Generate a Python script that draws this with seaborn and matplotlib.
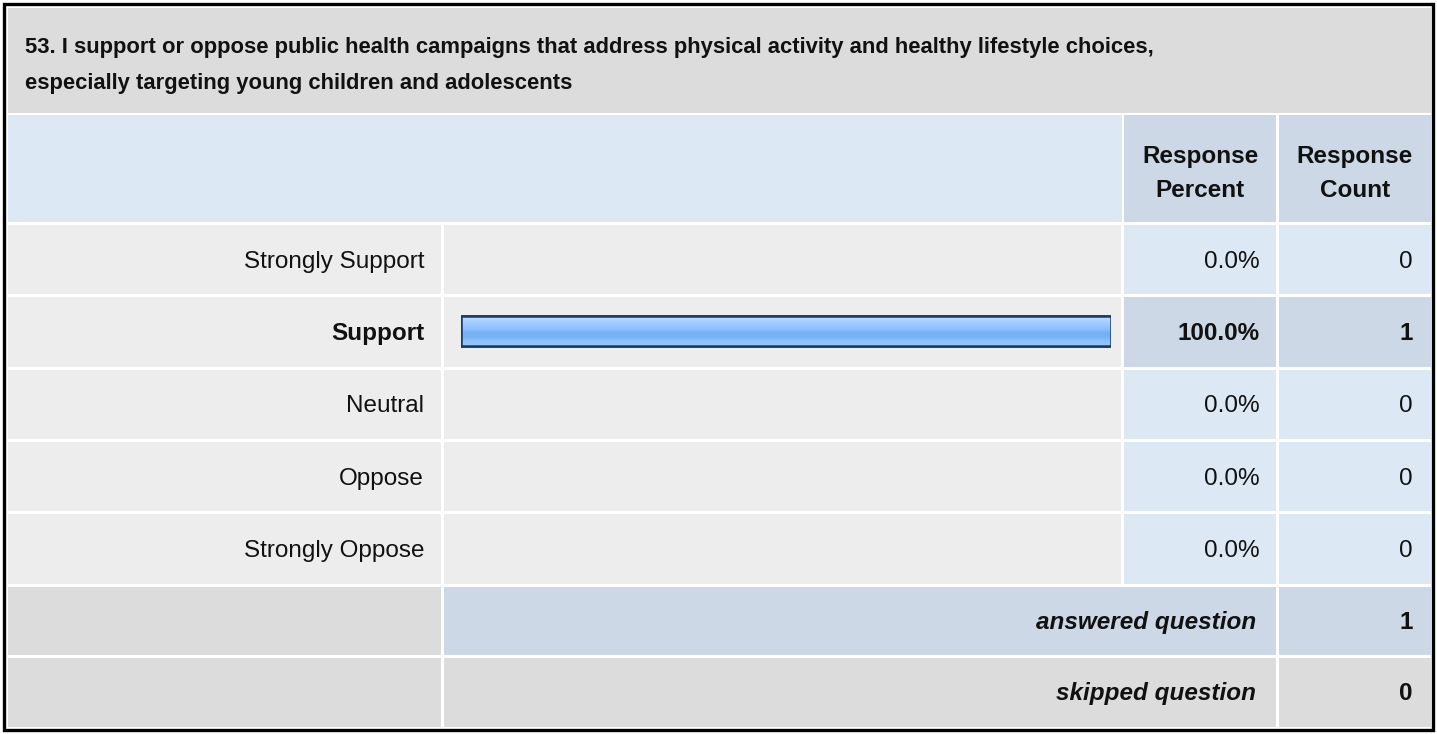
import numpy as np
import seaborn as sns
import matplotlib.pyplot as plt
from matplotlib.patches import Rectangle
from matplotlib.colors import LinearSegmentedColormap

sns.set_theme(style="white")
plt.rcParams['font.family'] = ['Liberation Sans', 'DejaVu Sans']

# Données du tableau
question_l1 = "53. I support or oppose public health campaigns that address physical activity and healthy lifestyle choices,"
question_l2 = "especially targeting young children and adolescents"
reponses = ['Strongly Support', 'Support', 'Neutral', 'Oppose', 'Strongly Oppose']
pourcentages = [0.0, 100.0, 0.0, 0.0, 0.0]
comptes = [0, 1, 0, 0, 0]
repondu = 1
saute = 0

W, H = 1437, 734
fig = plt.figure(figsize=(W / 100, H / 100), dpi=100)
fig.patch.set_facecolor('white')
ax = fig.add_axes([0, 0, 1, 1])
ax.set_xlim(0, W)
ax.set_ylim(H, 0)
ax.axis('off')

GRIS = '#dcdcdc'
GRIS_CLAIR = '#ededed'
BLEU_CLAIR = '#dde8f5'
BLEU = '#ccd8e6'
NOIR = '#111111'
FS = 17.5

cols = [(8, 441), (444, 1121), (1124, 1276), (1279, 1431)]


def cellule(x0, x1, y0, y1, couleur):
    ax.add_patch(Rectangle((x0, y0), x1 - x0, y1 - y0, facecolor=couleur, edgecolor='none'))


# bordure noire
ax.add_patch(Rectangle((4, 3.5), 1428.5, 726.5, facecolor='none', edgecolor='black', lw=2.4))

# titre
cellule(8, 1431, 8, 113, GRIS)
ax.text(25, 53, question_l1, ha='left', va='baseline', fontsize=15.8, fontweight='bold', color=NOIR)
ax.text(25, 89, question_l2, ha='left', va='baseline', fontsize=15.8, fontweight='bold', color=NOIR)

# en-tête
cellule(8, 1122, 115, 222, BLEU_CLAIR)
cellule(1124, 1276, 115, 222, BLEU)
cellule(1279, 1431, 115, 222, BLEU)
ax.text(1200, 163, 'Response', ha='center', va='baseline', fontsize=FS, fontweight='bold', color=NOIR)
ax.text(1200, 197, 'Percent', ha='center', va='baseline', fontsize=FS, fontweight='bold', color=NOIR)
ax.text(1355, 163, 'Response', ha='center', va='baseline', fontsize=FS, fontweight='bold', color=NOIR)
ax.text(1355, 197, 'Count', ha='center', va='baseline', fontsize=FS, fontweight='bold', color=NOIR)

# lignes de réponses
haut_lignes = 225
pas = 72.3
for i, (rep, pct, n) in enumerate(zip(reponses, pourcentages, comptes)):
    y0 = haut_lignes + i * pas
    y1 = y0 + pas - 3
    choisi = n > 0
    cellule(*cols[0], y0, y1, GRIS_CLAIR)
    cellule(*cols[1], y0, y1, GRIS_CLAIR)
    cellule(*cols[2], y0, y1, BLEU if choisi else BLEU_CLAIR)
    cellule(*cols[3], y0, y1, BLEU if choisi else BLEU_CLAIR)
    yb = (y0 + y1) / 2 + 8.2
    poids = 'bold' if choisi else 'normal'
    ax.text(424, yb, rep, ha='right', va='baseline', fontsize=FS, fontweight=poids, color=NOIR)
    ax.text(1260, yb, f'{pct:.1f}%', ha='right', va='baseline', fontsize=FS, fontweight=poids, color=NOIR)
    ax.text(1413, yb, f'{n}', ha='right', va='baseline', fontsize=FS, fontweight=poids, color=NOIR)

bas_lignes = haut_lignes + len(reponses) * pas - 3

# lignes de synthèse
cellule(8, 441, 587, 655, GRIS)
cellule(444, 1276, 587, 655, BLEU)
cellule(1279, 1431, 587, 655, BLEU)
cellule(8, 441, 658, 727, GRIS)
cellule(444, 1276, 658, 727, GRIS)
cellule(1279, 1431, 658, 727, GRIS)
ax.text(1256, 629, 'answered question', ha='right', va='baseline', fontsize=FS,
        fontweight='bold', style='italic', color=NOIR)
ax.text(1413, 629, f'{repondu}', ha='right', va='baseline', fontsize=FS, fontweight='bold', color=NOIR)
ax.text(1256, 700, 'skipped question', ha='right', va='baseline', fontsize=FS,
        fontweight='bold', style='italic', color=NOIR)
ax.text(1413, 700, f'{saute}', ha='right', va='baseline', fontsize=FS, fontweight='bold', color=NOIR)

# barres (seaborn) dans la colonne du graphique
bx0, bx1 = 461, 1111
bax = fig.add_axes([bx0 / W, 1 - bas_lignes / H, (bx1 - bx0) / W, (bas_lignes - haut_lignes) / H])
sns.barplot(x=pourcentages, y=reponses, orient='h', ax=bax, width=30 / pas,
            color='#8ec1ff', edgecolor='#1c3a5e', linewidth=1.8, saturation=1)
bax.axis('off')
bax.patch.set_alpha(0)

degrade = LinearSegmentedColormap.from_list(
    'barre', ['#c8e2ff', '#a9d2ff', '#9cc9ff', '#8cc0ff', '#74b0f2', '#78b3f5', '#8ec3ff', '#95c6ff'])
for p in list(bax.patches):
    if p.get_width() <= 0:
        p.set_linewidth(0)
        p.set_visible(False)
        continue
    x, y = p.get_x(), p.get_y()
    w, h = p.get_width(), p.get_height()
    img = bax.imshow(np.linspace(0, 1, 64).reshape(-1, 1), cmap=degrade, aspect='auto',
                     extent=(x, x + w, y + h, y), origin='upper', zorder=p.get_zorder() + 0.1)
    img.set_clip_path(p)
    bax.add_patch(Rectangle((x, y), w, h, facecolor='none', edgecolor='#1c3a5e', lw=1.8,
                            zorder=p.get_zorder() + 0.2))
bax.set_xlim(0, 100)
bax.set_ylim(len(reponses) - 0.5 + 0.02, -0.5 + 0.02)

fig.savefig('out.png', dpi=100)
